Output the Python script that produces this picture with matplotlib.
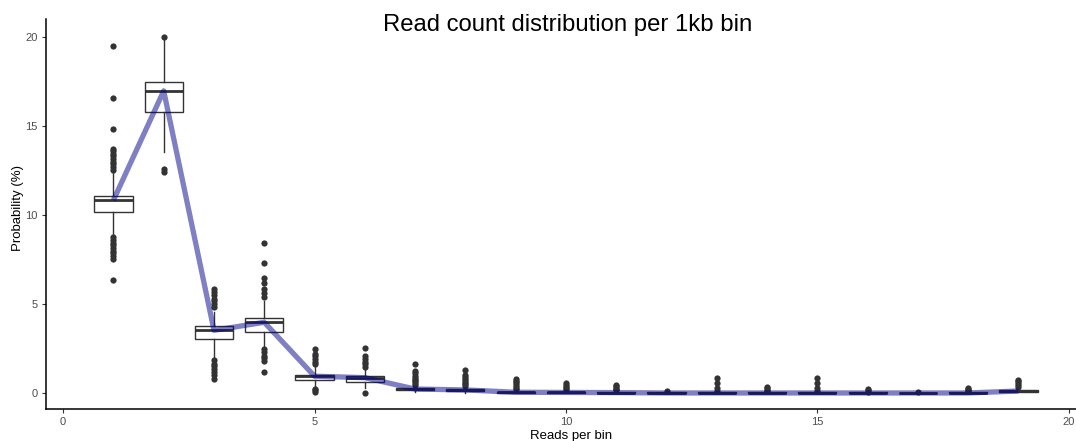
import matplotlib
matplotlib.use("Agg")
import matplotlib.pyplot as plt

plt.rcParams['font.family'] = ['Liberation Sans', 'DejaVu Sans']

# ---- data ----
reads = list(range(1, 20))
q1 = [10.15, 15.80, 3.05, 3.41, 0.73, 0.64, 0.15, 0.10, 0.00, 0.00, 0.00, 0.00, 0.00, 0.00, 0.00, 0.00, 0.00, 0.00, 0.08]
med = [10.83, 16.97, 3.52, 3.97, 0.94, 0.86, 0.22, 0.17, 0.04, 0.03, 0.02, 0.00, 0.00, 0.00, 0.00, 0.00, 0.00, 0.00, 0.11]
q3 = [11.08, 17.47, 3.76, 4.23, 1.03, 0.97, 0.28, 0.22, 0.08, 0.06, 0.05, 0.03, 0.03, 0.03, 0.03, 0.03, 0.02, 0.03, 0.14]
whislo = [8.88, 13.56, 1.97, 2.60, 0.35, 0.30, 0.05, 0.02, 0.00, 0.00, 0.00, 0.00, 0.00, 0.00, 0.00, 0.00, 0.00, 0.00, 0.05]
whishi = [12.43, 19.95, 4.57, 5.15, 1.45, 1.35, 0.40, 0.32, 0.15, 0.12, 0.10, 0.06, 0.06, 0.06, 0.06, 0.06, 0.04, 0.06, 0.20]
outliers = [
    [12.55, 12.7, 12.85, 13.0, 13.15, 13.3, 13.45, 13.6, 13.7, 14.85, 16.55, 19.5,
     8.75, 8.6, 8.45, 8.3, 8.15, 8.0, 7.85, 7.7, 7.5, 6.35],
    [20.0, 12.6, 12.4],
    [4.85, 5.0, 5.15, 5.3, 5.5, 5.65, 5.85, 1.85, 1.65, 1.5, 1.35, 1.2, 1.0, 0.8],
    [5.4, 5.6, 5.85, 6.2, 6.45, 7.3, 8.45, 2.45, 2.3, 2.1, 1.95, 1.8, 1.2],
    [1.6, 1.75, 1.9, 2.05, 2.2, 2.45, 0.25, 0.15, 0.05],
    [1.45, 1.6, 1.75, 1.9, 2.1, 2.55, 0.02],
    [0.45, 0.55, 0.65, 0.75, 0.85, 0.95, 1.1, 1.25, 1.6],
    [0.38, 0.48, 0.58, 0.68, 0.78, 0.88, 1.0, 1.27],
    [0.2, 0.3, 0.4, 0.5, 0.6, 0.7, 0.78],
    [0.18, 0.27, 0.36, 0.45, 0.55],
    [0.15, 0.22, 0.3, 0.38, 0.45],
    [0.12],
    [0.1, 0.3, 0.58, 0.86],
    [0.1, 0.18, 0.26, 0.33],
    [0.1, 0.3, 0.58, 0.86],
    [0.08, 0.15, 0.22],
    [0.06],
    [0.1, 0.16, 0.23, 0.3],
    [0.35, 0.45, 0.55, 0.65, 0.75],
]
x_ticks = [0, 5, 10, 15, 20]
y_ticks = [0, 5, 10, 15, 20]
title = "Read count distribution per 1kb bin"
xlabel = "Reads per bin"
ylabel = "Probability (%)"

# ---- figure ----
fig = plt.figure(figsize=(10.76, 4.41), dpi=100)
ax = fig.add_axes([0.0428, 0.0726, 0.957, 0.884])

stats = []
for i in range(len(reads)):
    stats.append(dict(q1=q1[i], med=med[i], q3=q3[i], whislo=whislo[i],
                      whishi=whishi[i], fliers=outliers[i]))

dark = '#333333'
ax.bxp(stats, positions=reads, widths=0.76, showcaps=False, patch_artist=True,
       boxprops=dict(facecolor='white', edgecolor=dark, linewidth=1.0),
       medianprops=dict(color=dark, linewidth=2.0),
       whiskerprops=dict(color=dark, linewidth=1.0),
       flierprops=dict(marker='o', markerfacecolor=dark, markeredgecolor=dark,
                       markersize=4.5, markeredgewidth=0),
       manage_ticks=False)

ax.plot(reads, med, color='#00008B', alpha=0.5, linewidth=3.8, zorder=5,
        solid_capstyle='butt', solid_joinstyle='round')

ax.set_xlim(-0.34, 20.14)
ax.set_ylim(-0.9, 21.0)
ax.set_xticks(x_ticks)
ax.set_yticks(y_ticks)
ax.set_xticklabels([str(v) for v in x_ticks])
ax.set_yticklabels([str(v) for v in y_ticks])
for s in ['top', 'right']:
    ax.spines[s].set_visible(False)
for s in ['left', 'bottom']:
    ax.spines[s].set_linewidth(1.1)
    ax.spines[s].set_color('black')
ax.tick_params(axis='both', length=3, width=0.8, color=dark, labelcolor='#4d4d4d',
               labelsize=8, pad=3)
ax.set_xlabel(xlabel, fontsize=9.5, color='black', va='center')
ax.set_ylabel(ylabel, fontsize=9.5, color='black', va='center')
ax.xaxis.set_label_coords(0.51, -0.069)
ax.yaxis.set_label_coords(-0.0272, 0.515)

fig.text(568 / 1076, 1 - 31 / 441, title, ha='center', va='baseline', fontsize=17.2, color='black')

fig.savefig('out.png', dpi=100)
